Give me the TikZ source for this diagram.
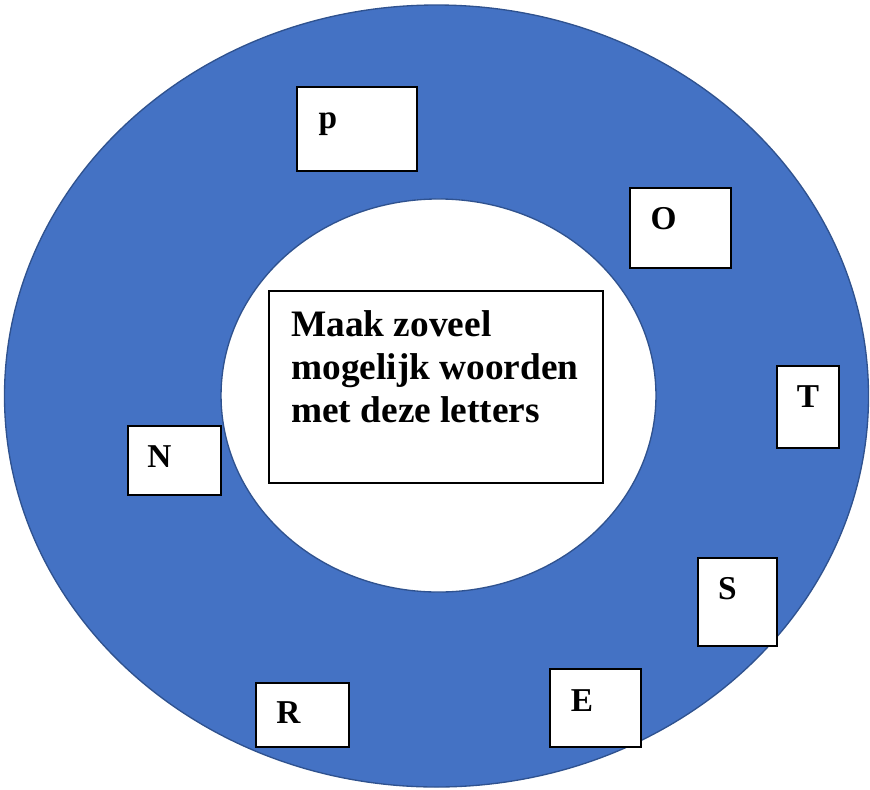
\documentclass[tikz,border=0pt]{standalone}
\usepackage{fontspec}
\setmainfont{Liberation Serif}
\definecolor{ringblue}{HTML}{4472C4}
\definecolor{ringedge}{HTML}{2F528F}
\tikzset{
  letterbox/.style={draw=black, fill=white, line width=1.2pt},
  letter/.style={anchor=base, inner sep=0pt, font=\fontsize{25}{30}\selectfont\bfseries},
}

\begin{document}
\begin{tikzpicture}[x=0.75pt,y=0.75pt,yscale=-1,xscale=1]
            \useasboundingbox (0,0) rectangle (870,789);

            % Ring
            \filldraw[fill=ringblue, draw=ringedge, line width=1pt] (436.5,396) ellipse (324pt and 293.25pt);
            \filldraw[fill=white, draw=ringedge, line width=1pt] (438.5,395.5) ellipse (163.1pt and 147.4pt);

            % Task box
            \draw[black, line width=0.9pt] (269,291) rectangle (603,483);
            \node (task) at (291,422.5) [anchor=base west][inner sep=0pt][align=left]
                  [font=\fontsize{28}{32.3}\selectfont\bfseries] {Maak zoveel\\mogelijk woorden\\met deze letters};

            % Letter boxes
            \draw[letterbox] (297,87) rectangle (417,171);
            \draw[letterbox] (630,188) rectangle (731,268);
            \draw[letterbox] (777,366) rectangle (839,448);
            \draw[letterbox] (128,426) rectangle (221,495);
            \draw[letterbox] (698,558) rectangle (777,646);
            \draw[letterbox] (550,669) rectangle (641,747);
            \draw[letterbox] (256,683) rectangle (349,747);

            % Letters
            \node[letter] (p) at (328,128) {p};
            \node[letter] (o) at (663.5,229.5) {O};
            \node[letter] (t) at (808,407) {T};
            \node[letter] (n) at (159.5,467) {N};
            \node[letter] (s) at (727.5,599.5) {S};
            \node[letter] (e) at (582,711) {E};
            \node[letter] (r) at (288.5,723) {R};

\end{tikzpicture}
\end{document}
